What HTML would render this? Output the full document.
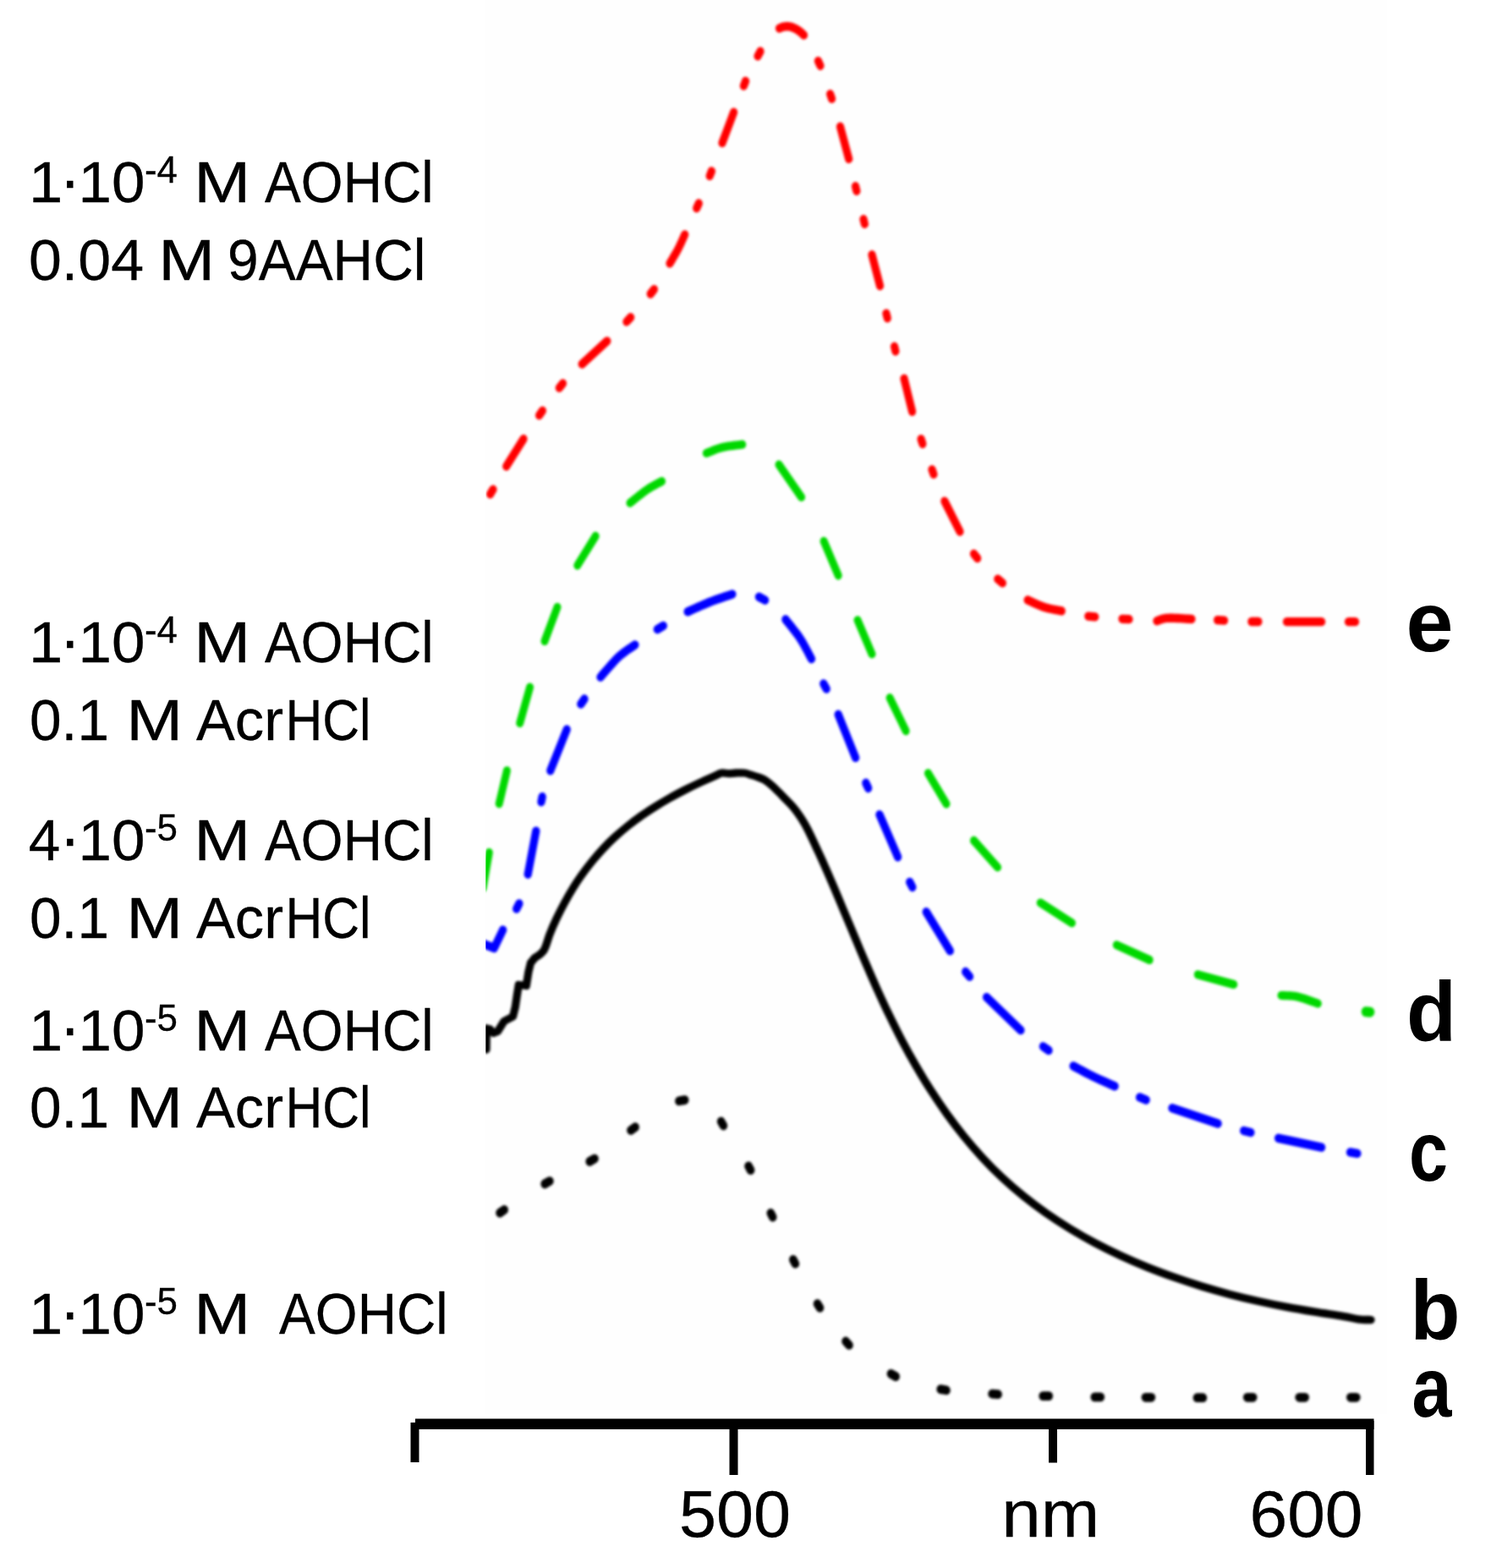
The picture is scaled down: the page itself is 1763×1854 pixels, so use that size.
<!DOCTYPE html>
<html lang="en">
<head>
<meta charset="utf-8">
<title>Absorption spectra</title>
<style>
html,body{margin:0;padding:0;background:#fff;}
body{width:1763px;height:1854px;overflow:hidden;}
svg{display:block;}
text{font-family:"Liberation Sans",sans-serif;fill:#000;stroke:#000;stroke-width:0.3px;}
.lbl{font-size:68.3px;}
.dot{font-size:75px;}
.sup{font-size:45px;}
.tick{font-size:78px;}
.let{font-size:100px;font-weight:bold;stroke:none;}
</style>
</head>
<body>
<svg width="1763" height="1854" viewBox="0 0 1763 1854">
<defs>
<clipPath id="plot"><rect x="574.3" y="0" width="1188.7" height="1854"/></clipPath>
<filter id="soft" x="0" y="0" width="1763" height="1854" filterUnits="userSpaceOnUse"><feGaussianBlur stdDeviation="1.5"/></filter>
</defs>
<rect x="0" y="0" width="1763" height="1854" fill="#ffffff"/>
<rect x="574.3" y="0" width="1066" height="1672" fill="#fefefe"/>

<g clip-path="url(#plot)"><g filter="url(#soft)"><g fill="none" stroke-linecap="round" stroke-linejoin="round" transform="scale(1,1.12)">
<!-- curve e (red, dash-dot-dot) -->
<g stroke="#ff0000" stroke-width="9.2">
<path d="M579.6 521.69L583.0 516.70"/>
<path d="M598.7 492.32L619.0 463.39"/>
<path d="M637.6 438.53L641.4 433.61"/>
<path d="M661.3 409.55L665.5 404.73"/>
<path d="M688.2 384.37L717.8 360.09"/>
<path d="M740.9 339.62L745.7 335.02"/>
<path d="M769.2 310.27L773.4 305.45"/>
<path d="M792.0 278.04L792.6 277.17L793.3 276.06L794.2 274.75L795.2 273.28L796.2 271.70L797.3 270.03L798.4 268.33L799.5 266.62L800.6 264.97L801.5 263.39L802.4 261.79L803.4 260.07L804.3 258.26L805.3 256.43L806.2 254.62L807.1 252.88L807.9 251.27L808.6 249.83L809.2 248.62L809.7 247.68"/>
<path d="M823.7 219.77L826.3 214.70"/>
<path d="M839.2 185.75L841.4 180.68"/>
<path d="M854.0 150.89L867.6 118.48"/>
<path d="M879.4 90.66L881.6 85.59"/>
<path d="M896.0 59.31L899.0 54.26"/>
<path d="M921.5 29.91L921.8 29.80L922.2 29.64L922.7 29.45L923.2 29.24L923.8 29.02L924.4 28.80L925.1 28.59L925.7 28.40L926.4 28.24L927.0 28.12L927.6 28.04L928.3 27.97L929.0 27.92L929.7 27.88L930.4 27.86L931.1 27.87L931.9 27.89L932.6 27.94L933.3 28.02L934.0 28.12L934.7 28.27L935.4 28.44L936.2 28.65L936.9 28.89L937.6 29.15L938.3 29.42L939.0 29.70L939.7 29.98L940.4 30.26L941.0 30.54L941.6 30.81L942.1 31.08L942.7 31.36L943.2 31.65L943.7 31.94L944.1 32.23L944.6 32.54L945.1 32.84L945.5 33.16L946.0 33.48L946.5 33.83L947.0 34.21L947.5 34.62L948.1 35.04L948.6 35.45L949.0 35.85L949.5 36.22L949.9 36.56L950.2 36.84L950.5 37.05"/>
<path d="M967.4 64.34L970.0 69.41"/>
<path d="M981.6 99.26L983.6 104.31"/>
<path d="M993.5 133.66L1003.7 167.77"/>
<path d="M1011.5 196.63L1012.9 201.59"/>
<path d="M1021.0 231.45L1022.4 236.41"/>
<path d="M1031.0 268.93L1040.5 301.79"/>
<path d="M1047.9 330.91L1049.3 335.87"/>
<path d="M1057.5 365.82L1058.9 370.78"/>
<path d="M1069.0 399.64L1078.6 434.55"/>
<path d="M1089.1 463.55L1090.9 468.59"/>
<path d="M1102.0 495.69L1104.0 500.74"/>
<path d="M1116.9 529.11L1135.0 561.16"/>
<path d="M1151.5 584.64L1155.7 589.46"/>
<path d="M1179.8 611.30L1185.4 615.49"/>
<path d="M1215.1 633.39L1216.3 633.87L1217.8 634.50L1219.6 635.25L1221.6 636.09L1223.8 636.99L1226.1 637.90L1228.4 638.80L1230.7 639.65L1232.9 640.42L1235.0 641.07L1237.1 641.63L1239.4 642.16L1241.7 642.65L1244.1 643.10L1246.4 643.52L1248.6 643.89L1250.7 644.23L1252.5 644.53L1254.1 644.78L1255.3 645.00"/>
<path d="M1286.8 650.58L1294.8 651.20"/>
<path d="M1327.0 653.38L1335.0 653.76"/>
<path d="M1367.9 655.54L1368.6 655.34L1369.4 655.06L1370.3 654.72L1371.4 654.34L1372.6 653.95L1373.9 653.56L1375.4 653.20L1377.0 652.89L1378.8 652.65L1380.8 652.50L1383.1 652.45L1385.9 652.47L1389.0 652.55L1392.3 652.68L1395.7 652.85L1399.0 653.02L1402.1 653.20L1404.9 653.36L1407.3 653.49L1409.0 653.57"/>
<path d="M1439.6 654.63L1447.6 655.01"/>
<path d="M1479.9 656.25L1487.9 656.25"/>
<path d="M1521.5 656.43L1562.6 656.43"/>
<path d="M1594.5 656.43L1602.5 656.43"/>
</g>
<!-- curve d (green, dashed) -->
<g stroke="#00d800" stroke-width="9.0">
<path d="M578.3 900.00L571.0 937.50"/>
<path d="M599.4 813.57L590.2 848.48"/>
<path d="M626.6 725.45L614.7 763.39"/>
<path d="M659.0 640.98L644.0 676.79"/>
<path d="M704.2 565.89L682.8 596.88"/>
<path d="M782.5 508.12L781.5 508.63L780.2 509.24L778.6 509.96L776.9 510.78L775.0 511.67L773.0 512.63L771.0 513.65L768.9 514.72L766.9 515.83L765.0 516.96L763.0 518.22L760.8 519.66L758.6 521.23L756.2 522.87L753.9 524.53L751.7 526.14L749.6 527.64L747.8 528.99L746.2 530.12L745.0 530.98"/>
<path d="M877.8 469.29L876.4 469.45L874.5 469.65L872.2 469.88L869.7 470.14L867.1 470.42L864.3 470.74L861.5 471.09L858.8 471.47L856.3 471.88L854.0 472.32L851.8 472.83L849.6 473.44L847.4 474.11L845.3 474.82L843.2 475.55L841.2 476.26L839.4 476.92L837.8 477.52L836.4 478.02L835.3 478.39"/>
<path d="M921.0 490.54L947.6 524.82"/>
<path d="M974.1 571.34L991.2 607.50"/>
<path d="M1014.0 654.64L1031.0 690.45"/>
<path d="M1052.1 736.70L1071.1 771.61"/>
<path d="M1097.4 816.25L1119.0 848.66"/>
<path d="M1151.5 887.41L1179.6 915.62"/>
<path d="M1230.2 953.12L1267.5 974.37"/>
<path d="M1320.3 997.59L1359.2 1013.39"/>
<path d="M1416.3 1028.84L1458.8 1039.29"/>
<path d="M1515.0 1050.89L1516.1 1050.95L1517.5 1050.98L1519.1 1051.01L1521.0 1051.05L1523.0 1051.12L1525.1 1051.21L1527.3 1051.36L1529.6 1051.57L1531.8 1051.86L1534.0 1052.23L1536.3 1052.74L1538.9 1053.40L1541.7 1054.17L1544.5 1055.01L1547.3 1055.89L1550.1 1056.75L1552.6 1057.57L1554.9 1058.31L1556.8 1058.92L1558.3 1059.38"/>
<path d="M1615.0 1068.11L1620.0 1068.50" stroke-width="10.6"/>
</g>
<!-- curve c (blue, dash-dot) -->
<g stroke="#0000ff" stroke-width="9.3">
<path d="M570.0 995.98L584.3 1000.89L594.6 981.79"/>
<path d="M610.7 959.43L613.9 953.97"/>
<path d="M633.8 877.41L624.2 922.95"/>
<path d="M640.0 846.60L641.2 841.25"/>
<path d="M670.2 770.09L650.8 813.57"/>
<path d="M686.8 743.27L691.0 737.98"/>
<path d="M750.8 680.80L749.7 681.53L748.2 682.40L746.5 683.43L744.5 684.58L742.4 685.86L740.2 687.24L738.0 688.72L735.7 690.27L733.5 691.89L731.4 693.57L729.2 695.45L726.9 697.62L724.5 699.99L722.0 702.48L719.5 704.99L717.1 707.44L714.9 709.74L712.9 711.80L711.3 713.52L710.0 714.82"/>
<path d="M777.3 664.31L784.3 660.69"/>
<path d="M865.9 627.32L864.4 627.78L862.5 628.35L860.2 629.01L857.6 629.77L854.9 630.59L852.0 631.46L849.0 632.37L846.0 633.30L843.1 634.25L840.4 635.18L837.6 636.18L834.6 637.30L831.5 638.50L828.3 639.74L825.2 640.98L822.1 642.19L819.3 643.31L816.8 644.31L814.7 645.16L813.1 645.80"/>
<path d="M897.4 630.17L904.6 633.58"/>
<path d="M928.9 654.02L929.9 655.18L931.3 656.67L932.9 658.42L934.6 660.39L936.6 662.52L938.5 664.76L940.5 667.05L942.4 669.35L944.3 671.60L945.9 673.75L947.5 675.95L949.1 678.34L950.7 680.84L952.2 683.40L953.8 685.92L955.2 688.35L956.5 690.60L957.7 692.62L958.7 694.31L959.5 695.62"/>
<path d="M973.8 721.85L977.2 727.26"/>
<path d="M991.2 754.29L1011.6 799.91"/>
<path d="M1023.8 826.63L1026.6 832.12"/>
<path d="M1040.0 860.09L1061.6 904.73"/>
<path d="M1075.7 931.21L1078.9 936.65"/>
<path d="M1095.2 962.77L1123.3 1003.75"/>
<path d="M1141.7 1025.94L1146.5 1031.02"/>
<path d="M1166.6 1052.77L1206.9 1087.59"/>
<path d="M1233.4 1104.84L1240.0 1108.91"/>
<path d="M1269.2 1125.45L1270.6 1126.12L1272.4 1126.98L1274.5 1128.01L1276.9 1129.16L1279.5 1130.40L1282.2 1131.68L1285.0 1132.99L1287.8 1134.26L1290.5 1135.48L1293.0 1136.61L1295.6 1137.70L1298.3 1138.86L1301.2 1140.03L1304.2 1141.20L1307.0 1142.35L1309.8 1143.44L1312.4 1144.44L1314.7 1145.34L1316.6 1146.10L1318.1 1146.70"/>
<path d="M1347.6 1158.44L1355.2 1161.21"/>
<path d="M1386.0 1169.91L1440.1 1186.16"/>
<path d="M1470.7 1193.73L1478.9 1195.55"/>
<path d="M1511.6 1201.61L1562.6 1211.25"/>
<path d="M1596.5 1216.40L1604.9 1217.71"/>
</g>
<!-- curve a (black, dotted) -->
<g stroke="#000000" stroke-width="9.6">
<path d="M591.0 1280.49L596.2 1277.19"/>
<path d="M644.1 1249.87L649.9 1246.92"/>
<path d="M697.2 1226.20L703.0 1223.26"/>
<path d="M745.9 1193.26L751.1 1189.95"/>
<path d="M802.9 1162.32L809.7 1161.25"/>
<path d="M852.6 1184.03L855.4 1188.29"/>
<path d="M885.0 1231.08L887.6 1235.35"/>
<path d="M911.3 1280.64L913.7 1284.90"/>
<path d="M937.8 1329.83L940.4 1334.10"/>
<path d="M966.5 1376.37L969.5 1380.60"/>
<path d="M1000.0 1416.04L1004.0 1420.03"/>
<path d="M1053.4 1450.31L1059.2 1453.26"/>
<path d="M1112.2 1466.60L1119.0 1467.68"/>
<path d="M1173.1 1471.51L1180.1 1472.06"/>
<path d="M1233.2 1473.75L1240.2 1473.75"/>
<path d="M1294.3 1474.91L1301.3 1474.91"/>
<path d="M1354.4 1475.27L1361.4 1475.27"/>
<path d="M1415.4 1475.62L1422.4 1475.62"/>
<path d="M1474.7 1475.27L1481.7 1475.27"/>
<path d="M1536.2 1475.27L1543.2 1475.27"/>
<path d="M1596.8 1475.27L1603.8 1475.27"/>
</g>
</g>
<!-- curve b (black, solid) -->
<g fill="none" stroke-linecap="round" stroke-linejoin="round" stroke="#000000" stroke-width="9.3">
<path d="M575.0 1241.00L575.3 1216.00L579.5 1217.00L583.5 1221.50L588.5 1219.50L596.0 1207.50L606.5 1202.00L609.3 1190.60L611.3 1177.00L613.3 1164.50L622.3 1165.50L624.8 1149.70L627.5 1138.50L632.0 1133.00"/>
<path d="M632.0 1133.00C633.8 1131.45 640.0 1128.42 643.0 1123.70C646.0 1118.98 647.5 1110.97 650.0 1104.70C652.5 1098.43 655.2 1092.20 658.1 1086.10C661.0 1080.00 664.0 1074.02 667.2 1068.10C670.4 1062.18 673.7 1056.30 677.2 1050.60C680.7 1044.90 684.4 1039.32 688.3 1033.90C692.2 1028.48 696.2 1023.22 700.4 1018.10C704.6 1012.98 708.9 1008.00 713.4 1003.20C717.9 998.40 722.6 993.75 727.5 989.30C732.4 984.85 737.4 980.62 742.5 976.50C747.6 972.38 752.9 968.40 758.3 964.60C763.7 960.80 769.3 957.22 774.9 953.70C780.5 950.18 786.3 946.78 792.1 943.50C797.9 940.22 803.9 937.07 809.9 934.00C815.9 930.93 822.0 927.97 828.2 925.10C834.4 922.23 842.8 918.65 846.9 916.80C851.0 914.95 850.6 914.37 853.1 914.00C855.6 913.63 858.8 914.60 861.6 914.60C864.5 914.60 867.1 914.10 870.2 914.00C873.3 913.90 877.6 913.67 880.4 914.00C883.2 914.33 884.7 915.23 887.2 916.00C889.7 916.77 892.8 917.63 895.5 918.60C898.2 919.57 900.8 920.23 903.5 921.80C906.2 923.37 909.0 925.63 911.8 928.00C914.6 930.37 917.3 933.17 920.2 936.00C923.1 938.83 926.0 941.92 929.0 945.00C932.0 948.08 935.0 950.92 938.0 954.50C941.0 958.08 943.9 962.03 946.8 966.50C949.7 970.97 951.6 973.75 955.4 981.30C959.2 988.85 965.0 1001.55 969.7 1011.80C974.4 1022.05 978.9 1032.40 983.4 1042.80C987.9 1053.20 992.2 1063.70 996.6 1074.20C1001.0 1084.70 1005.4 1095.27 1009.8 1105.80C1014.2 1116.33 1018.6 1126.90 1023.1 1137.40C1027.6 1147.90 1032.1 1158.40 1036.8 1168.80C1041.5 1179.20 1046.2 1189.53 1051.2 1199.80C1056.2 1210.07 1061.2 1220.33 1066.5 1230.40C1071.8 1240.47 1077.3 1250.42 1083.0 1260.20C1088.7 1269.98 1094.5 1279.63 1100.6 1289.10C1106.7 1298.57 1113.0 1307.92 1119.5 1317.00C1126.0 1326.08 1132.8 1334.97 1139.8 1343.60C1146.8 1352.23 1154.1 1360.67 1161.6 1368.80C1169.1 1376.93 1176.9 1384.83 1185.0 1392.40C1193.1 1399.97 1201.5 1407.22 1210.1 1414.20C1218.7 1421.18 1227.7 1427.90 1236.8 1434.30C1245.9 1440.70 1255.3 1446.75 1264.9 1452.60C1274.5 1458.45 1284.2 1464.08 1294.2 1469.40C1304.2 1474.72 1314.4 1479.72 1324.7 1484.50C1335.0 1489.28 1345.5 1493.82 1356.1 1498.10C1366.7 1502.38 1377.5 1506.38 1388.3 1510.20C1399.1 1514.02 1410.1 1517.63 1421.1 1521.00C1432.1 1524.37 1443.1 1527.48 1454.2 1530.40C1465.3 1533.32 1476.5 1536.00 1487.7 1538.50C1498.9 1541.00 1510.0 1543.28 1521.2 1545.40C1532.4 1547.52 1543.6 1549.38 1554.7 1551.20C1565.8 1553.02 1579.4 1554.87 1587.9 1556.30C1596.5 1557.73 1600.5 1559.08 1606.0 1559.80C1611.5 1560.52 1618.5 1560.47 1621.0 1560.60"/>
</g>
</g></g>
<!-- axis -->
<g fill="#000">
<rect x="491" y="1677.5" width="1133.5" height="12.5"/>
<rect x="485.5" y="1682" width="10" height="47"/>
<rect x="862.5" y="1680" width="10" height="64"/>
<rect x="1240" y="1680" width="10" height="49.5"/>
<rect x="1615" y="1680" width="9.5" height="64"/>
</g>
<!-- text -->
<g>
<text class="lbl"><tspan x="34" y="239.0" textLength="40.3" lengthAdjust="spacingAndGlyphs">1</tspan><tspan class="dot" x="82.8" y="237.6" text-anchor="middle">·</tspan><tspan x="92.6" y="239.0" textLength="79" lengthAdjust="spacingAndGlyphs">10</tspan><tspan x="171" y="216.0" class="sup" textLength="39" lengthAdjust="spacingAndGlyphs">-4</tspan> <tspan x="229.3" y="239.0" textLength="67" lengthAdjust="spacingAndGlyphs">M</tspan> <tspan x="313" y="239.0" textLength="199.5" lengthAdjust="spacingAndGlyphs">AOHCl</tspan></text>
<text class="lbl"><tspan x="34" y="330.5" textLength="136" lengthAdjust="spacingAndGlyphs">0.04</tspan> <tspan x="187.3" y="330.5" textLength="67" lengthAdjust="spacingAndGlyphs">M</tspan> <tspan x="269" y="330.5" textLength="234.5" lengthAdjust="spacingAndGlyphs">9AAHCl</tspan></text>
<text class="lbl"><tspan x="34" y="783.4" textLength="40.3" lengthAdjust="spacingAndGlyphs">1</tspan><tspan class="dot" x="82.8" y="782.0" text-anchor="middle">·</tspan><tspan x="92.6" y="783.4" textLength="79" lengthAdjust="spacingAndGlyphs">10</tspan><tspan x="171" y="760.4" class="sup" textLength="39" lengthAdjust="spacingAndGlyphs">-4</tspan> <tspan x="229.3" y="783.4" textLength="67" lengthAdjust="spacingAndGlyphs">M</tspan> <tspan x="313" y="783.4" textLength="199.5" lengthAdjust="spacingAndGlyphs">AOHCl</tspan></text>
<text class="lbl"><tspan x="35" y="875.0" textLength="94" lengthAdjust="spacingAndGlyphs">0.1</tspan> <tspan x="149.3" y="875.0" textLength="67" lengthAdjust="spacingAndGlyphs">M</tspan> <tspan x="232" y="875.0" textLength="103" lengthAdjust="spacingAndGlyphs">Acr</tspan><tspan x="337.5" y="875.0" textLength="101" lengthAdjust="spacingAndGlyphs">HCl</tspan></text>
<text class="lbl"><tspan x="33.7" y="1017.2" textLength="37.5" lengthAdjust="spacingAndGlyphs">4</tspan><tspan class="dot" x="82.8" y="1015.8" text-anchor="middle">·</tspan><tspan x="92.6" y="1017.2" textLength="79" lengthAdjust="spacingAndGlyphs">10</tspan><tspan x="171" y="994.2" class="sup" textLength="39" lengthAdjust="spacingAndGlyphs">-5</tspan> <tspan x="229.3" y="1017.2" textLength="67" lengthAdjust="spacingAndGlyphs">M</tspan> <tspan x="313" y="1017.2" textLength="199.5" lengthAdjust="spacingAndGlyphs">AOHCl</tspan></text>
<text class="lbl"><tspan x="35" y="1108.6" textLength="94" lengthAdjust="spacingAndGlyphs">0.1</tspan> <tspan x="149.3" y="1108.6" textLength="67" lengthAdjust="spacingAndGlyphs">M</tspan> <tspan x="232" y="1108.6" textLength="103" lengthAdjust="spacingAndGlyphs">Acr</tspan><tspan x="337.5" y="1108.6" textLength="101" lengthAdjust="spacingAndGlyphs">HCl</tspan></text>
<text class="lbl"><tspan x="34" y="1241.6" textLength="40.3" lengthAdjust="spacingAndGlyphs">1</tspan><tspan class="dot" x="82.8" y="1240.2" text-anchor="middle">·</tspan><tspan x="92.6" y="1241.6" textLength="79" lengthAdjust="spacingAndGlyphs">10</tspan><tspan x="171" y="1218.6" class="sup" textLength="39" lengthAdjust="spacingAndGlyphs">-5</tspan> <tspan x="229.3" y="1241.6" textLength="67" lengthAdjust="spacingAndGlyphs">M</tspan> <tspan x="313" y="1241.6" textLength="199.5" lengthAdjust="spacingAndGlyphs">AOHCl</tspan></text>
<text class="lbl"><tspan x="35" y="1333.2" textLength="94" lengthAdjust="spacingAndGlyphs">0.1</tspan> <tspan x="149.3" y="1333.2" textLength="67" lengthAdjust="spacingAndGlyphs">M</tspan> <tspan x="232" y="1333.2" textLength="103" lengthAdjust="spacingAndGlyphs">Acr</tspan><tspan x="337.5" y="1333.2" textLength="101" lengthAdjust="spacingAndGlyphs">HCl</tspan></text>
<text class="lbl"><tspan x="34" y="1577.2" textLength="40.3" lengthAdjust="spacingAndGlyphs">1</tspan><tspan class="dot" x="82.8" y="1575.8" text-anchor="middle">·</tspan><tspan x="92.6" y="1577.2" textLength="79" lengthAdjust="spacingAndGlyphs">10</tspan><tspan x="171" y="1554.2" class="sup" textLength="39" lengthAdjust="spacingAndGlyphs">-5</tspan> <tspan x="229.3" y="1577.2" textLength="67" lengthAdjust="spacingAndGlyphs">M</tspan>  <tspan x="330" y="1577.2" textLength="199.5" lengthAdjust="spacingAndGlyphs">AOHCl</tspan></text>
<text class="tick"><tspan x="803" y="1816.5" textLength="132" lengthAdjust="spacingAndGlyphs">500</tspan></text>
<text class="tick"><tspan x="1184.3" y="1816.5" textLength="116" lengthAdjust="spacingAndGlyphs">nm</tspan></text>
<text class="tick"><tspan x="1477.5" y="1816.5" textLength="134" lengthAdjust="spacingAndGlyphs">600</tspan></text>
<text class="let"><tspan x="1662.5" y="770.0" textLength="56" lengthAdjust="spacingAndGlyphs">e</tspan></text>
<text class="let"><tspan x="1663" y="1231.0" textLength="59" lengthAdjust="spacingAndGlyphs">d</tspan></text>
<text class="let"><tspan x="1666" y="1395.5" textLength="46" lengthAdjust="spacingAndGlyphs">c</tspan></text>
<text class="let"><tspan x="1667.5" y="1583.5" textLength="59" lengthAdjust="spacingAndGlyphs">b</tspan></text>
<text class="let"><tspan x="1669.5" y="1674.5" textLength="47" lengthAdjust="spacingAndGlyphs">a</tspan></text>
</g>
</svg>
</body>
</html>
